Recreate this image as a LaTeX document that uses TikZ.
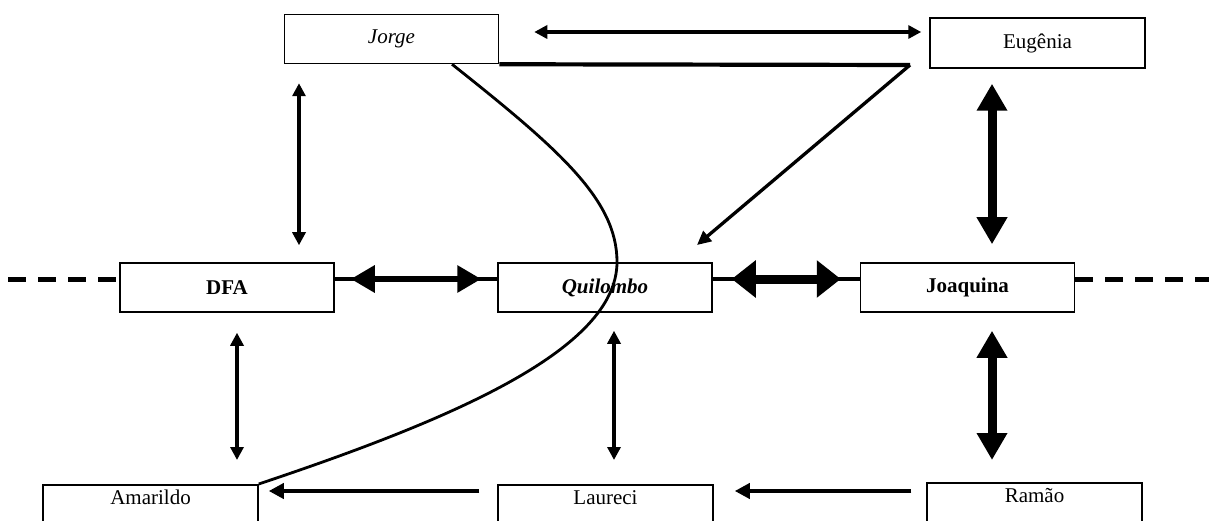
\documentclass[tikz,border=0pt]{standalone}
\usepackage{fontspec}
\setmainfont{Liberation Serif}
\usetikzlibrary{arrows.meta,calc}
\begin{document}
\begin{tikzpicture}[x=1pt,y=-1pt,
  box/.style={draw, line width=1.5pt, minimum width=214pt, minimum height=49pt, inner sep=0pt, font=\fontsize{21}{25}\selectfont},
  lowbox/.style={draw, line width=1.5pt, minimum width=215pt, anchor=north, inner xsep=0pt, inner ysep=0pt, text height=20pt, text depth=34pt, font=\fontsize{21}{25}\selectfont},
  thinarr/.style={line width=3.2pt, {Triangle[length=13pt,width=13pt]}-{Triangle[length=13pt,width=13pt]}},
  midarr/.style={line width=6.5pt, {Triangle[length=24pt,width=26pt]}-{Triangle[length=24pt,width=26pt]}},
  bigarr/.style={line width=9pt, {Triangle[length=24pt,width=36pt]}-{Triangle[length=24pt,width=36pt]}},
  vbigarr/.style={line width=9pt, {Triangle[length=27pt,width=29pt]}-{Triangle[length=27pt,width=29pt]}},
  onearr/.style={line width=4pt, -{Triangle[length=15pt,width=15pt]}},
  diagarr/.style={line width=3.3pt, -{Triangle[length=14pt,width=13pt]}},
  dashline/.style={line width=5pt, dash pattern=on 18pt off 12pt},
  plain/.style={line width=3.2pt}
]
\useasboundingbox (0,0) rectangle (1209,521);
\clip (0,0) rectangle (1209,521);

\node[box] (jorge) at (391.5,39) {\itshape Jorge};
\node[box, minimum width=215pt, minimum height=50pt] (eugenia) at (1037.5,43) {Eugênia};
\node[box, minimum height=49pt] (dfa) at (227,287.5) {\bfseries DFA};
\node[box] (quilombo) at (605,287.5) {\bfseries\itshape Quilombo};
\node[box] (joaquina) at (967.5,287.5) {\bfseries Joaquina};
\node[lowbox] (amarildo) at (150.5,484) {Amarildo};
\node[lowbox] (laureci) at (605.5,484) {Laureci};
\node[lowbox] (ramao) at (1034.5,482) {Ramão};

\coordinate (corner) at (910,65);
\coordinate (qtip) at (697,245);
\coordinate (leftend) at (8,279);
\coordinate (rightend) at (1209,279);

% dashed horizontal line
\draw[dashline] (leftend) -- (dfa.west |- leftend);
\draw[dashline] (joaquina.east |- rightend) -- (rightend);
\draw[plain] (dfa.east |- leftend) -- (quilombo.west |- leftend);
\draw[plain] (quilombo.east |- leftend) -- (joaquina.west |- leftend);

% horizontal double arrows
\draw[midarr, shorten <=16pt, shorten >=16pt] (dfa.east |- leftend) -- (quilombo.west |- leftend);
\draw[bigarr, shorten <=19pt, shorten >=19pt] (quilombo.east |- leftend) -- (joaquina.west |- leftend);

% top arrow
\draw[thinarr, shorten <=35pt, shorten >=8pt] (jorge.east |- 0,32) -- (eugenia.west |- 0,32);

% thick line and diagonal
\draw[line width=4.2pt] (jorge.south east) -- (corner);
\draw[diagarr] (corner) -- (qtip);

% vertical arrows
\draw[thinarr, shorten <=19pt, shorten >=17pt] (jorge.south -| 299,0) -- (dfa.north -| 299,0);
\draw[thinarr, shorten <=20pt, shorten >=24pt] (dfa.south -| 237,0) -- (amarildo.north -| 237,0);
\draw[thinarr, shorten <=18pt, shorten >=24pt] (quilombo.south -| 614,0) -- (laureci.north -| 614,0);
\draw[vbigarr, shorten <=15pt, shorten >=18pt] (eugenia.south -| 992,0) -- (joaquina.north -| 992,0);
\draw[vbigarr, shorten <=18pt, shorten >=22pt] (joaquina.south -| 992,0) -- (ramao.north -| 992,0);

% bottom arrows
\draw[onearr, shorten <=18pt, shorten >=10pt] (laureci.west |- 0,491) -- (amarildo.east |- 0,491);
\draw[onearr, shorten <=15pt, shorten >=21pt] (ramao.west |- 0,491) -- (laureci.east |- 0,491);

% curve
\draw[line width=2.8pt] (jorge.south -| 452,0) .. controls (560,150) and (617,200) .. (617,262)
  .. controls (617,350) and (450,420) .. (amarildo.north east);
\end{tikzpicture}
\end{document}
